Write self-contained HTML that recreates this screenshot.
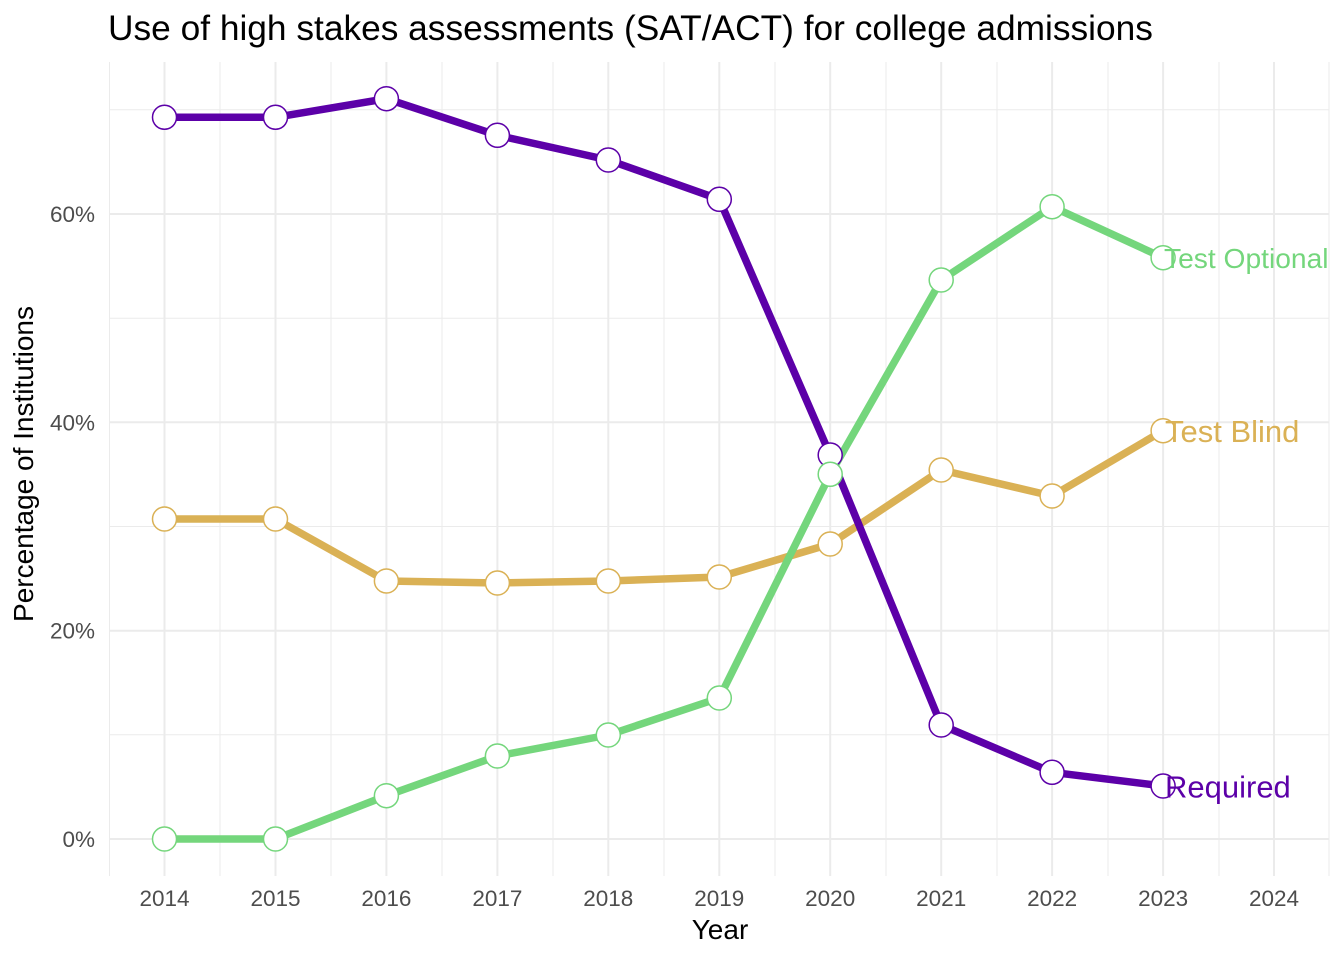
<!DOCTYPE html>
<html>
<head>
<meta charset="utf-8">
<style>
  html, body { margin: 0; padding: 0; background: #ffffff; }
  svg { display: block; }
  text { font-family: "Liberation Sans", Arial, sans-serif; }
</style>
</head>
<body>
<svg width="1344" height="960" viewBox="0 0 1344 960" xmlns="http://www.w3.org/2000/svg">
  <defs>
    <clipPath id="panel"><rect x="110" y="62" width="1219.5" height="814"/></clipPath>
  </defs>
  <rect x="0" y="0" width="1344" height="960" fill="#ffffff"/>

  <!-- Minor grid -->
  <g stroke="#ebebeb" stroke-width="1" fill="none">
    <line x1="110" y1="734.8" x2="1329" y2="734.8"/>
    <line x1="110" y1="526.5" x2="1329" y2="526.5"/>
    <line x1="110" y1="318.2" x2="1329" y2="318.2"/>
    <line x1="110" y1="109.8" x2="1329" y2="109.8"/>
    <line x1="109.5" y1="62" x2="109.5" y2="876"/>
    <line x1="220" y1="62" x2="220" y2="876"/>
    <line x1="331" y1="62" x2="331" y2="876"/>
    <line x1="442" y1="62" x2="442" y2="876"/>
    <line x1="553" y1="62" x2="553" y2="876"/>
    <line x1="664" y1="62" x2="664" y2="876"/>
    <line x1="775" y1="62" x2="775" y2="876"/>
    <line x1="886" y1="62" x2="886" y2="876"/>
    <line x1="997" y1="62" x2="997" y2="876"/>
    <line x1="1108" y1="62" x2="1108" y2="876"/>
    <line x1="1219" y1="62" x2="1219" y2="876"/>
    <line x1="1329" y1="62" x2="1329" y2="876"/>
  </g>
  <!-- Major grid -->
  <g stroke="#ebebeb" stroke-width="2" fill="none">
    <line x1="110" y1="839" x2="1329" y2="839"/>
    <line x1="110" y1="630.7" x2="1329" y2="630.7"/>
    <line x1="110" y1="422.3" x2="1329" y2="422.3"/>
    <line x1="110" y1="214" x2="1329" y2="214"/>
    <line x1="164.5" y1="62" x2="164.5" y2="876"/>
    <line x1="275.5" y1="62" x2="275.5" y2="876"/>
    <line x1="386.4" y1="62" x2="386.4" y2="876"/>
    <line x1="497.4" y1="62" x2="497.4" y2="876"/>
    <line x1="608.3" y1="62" x2="608.3" y2="876"/>
    <line x1="719.3" y1="62" x2="719.3" y2="876"/>
    <line x1="830.2" y1="62" x2="830.2" y2="876"/>
    <line x1="941.2" y1="62" x2="941.2" y2="876"/>
    <line x1="1052.1" y1="62" x2="1052.1" y2="876"/>
    <line x1="1163.1" y1="62" x2="1163.1" y2="876"/>
    <line x1="1274" y1="62" x2="1274" y2="876"/>
  </g>

  <!-- Lines -->
  <g fill="none" stroke-width="7.5" stroke-linejoin="round" stroke-linecap="butt">
    <polyline stroke="#dab155" points="164.5,519 275.5,519 386.4,581 497.4,583 608.3,581 719.3,577 830.2,544 941.2,470 1052.1,496 1163.1,430.7"/>
    <polyline stroke="#74d67c" points="164.5,839 275.5,839 386.4,795.7 497.4,756 608.3,735 719.3,698 830.2,474.3 941.2,280 1052.1,206.7 1163.1,257.7"/>
    <polyline stroke="#5c00a8" points="164.5,117.3 275.5,117.3 386.4,98.7 497.4,135.3 608.3,160 719.3,199.3 830.2,455 941.2,725 1052.1,772.3 1163.1,786"/>
  </g>

  <!-- Points -->
  <g fill="#ffffff" stroke-width="1.5">
    <g stroke="#dab155">
      <circle cx="164.5" cy="519" r="12"/>
      <circle cx="275.5" cy="519" r="12"/>
      <circle cx="386.4" cy="581" r="12"/>
      <circle cx="497.4" cy="583" r="12"/>
      <circle cx="608.3" cy="581" r="12"/>
      <circle cx="719.3" cy="577" r="12"/>
      <circle cx="830.2" cy="544" r="12"/>
      <circle cx="941.2" cy="470" r="12"/>
      <circle cx="1052.1" cy="496" r="12"/>
      <circle cx="1163.1" cy="430.7" r="12"/>
    </g>
    <g stroke="#5c00a8">
      <circle cx="164.5" cy="117.3" r="12"/>
      <circle cx="275.5" cy="117.3" r="12"/>
      <circle cx="386.4" cy="98.7" r="12"/>
      <circle cx="497.4" cy="135.3" r="12"/>
      <circle cx="608.3" cy="160" r="12"/>
      <circle cx="719.3" cy="199.3" r="12"/>
      <circle cx="830.2" cy="455" r="12"/>
      <circle cx="941.2" cy="725" r="12"/>
      <circle cx="1052.1" cy="772.3" r="12"/>
      <circle cx="1163.1" cy="786" r="12"/>
    </g>
    <g stroke="#74d67c">
      <circle cx="164.5" cy="839" r="12"/>
      <circle cx="275.5" cy="839" r="12"/>
      <circle cx="386.4" cy="795.7" r="12"/>
      <circle cx="497.4" cy="756" r="12"/>
      <circle cx="608.3" cy="735" r="12"/>
      <circle cx="719.3" cy="698" r="12"/>
      <circle cx="830.2" cy="474.3" r="12"/>
      <circle cx="941.2" cy="280" r="12"/>
      <circle cx="1052.1" cy="206.7" r="12"/>
      <circle cx="1163.1" cy="257.7" r="12"/>
    </g>
  </g>

  <!-- Series labels -->
  <g clip-path="url(#panel)">
    <text x="1164" y="268" font-size="28.2" fill="#74d67c">Test Optional</text>
    <text x="1165" y="442" font-size="31" fill="#dab155">Test Blind</text>
    <text x="1165" y="797.5" font-size="31" fill="#5c00a8">Required</text>
  </g>

  <!-- Y tick labels -->
  <g font-size="22.5" fill="#4d4d4d" text-anchor="end">
    <text x="95" y="847">0%</text>
    <text x="95" y="638.7">20%</text>
    <text x="95" y="430.3">40%</text>
    <text x="95" y="222">60%</text>
  </g>

  <!-- X tick labels -->
  <g font-size="22.5" fill="#4d4d4d" text-anchor="middle">
    <text x="164.5" y="906">2014</text>
    <text x="275.5" y="906">2015</text>
    <text x="386.4" y="906">2016</text>
    <text x="497.4" y="906">2017</text>
    <text x="608.3" y="906">2018</text>
    <text x="719.3" y="906">2019</text>
    <text x="830.2" y="906">2020</text>
    <text x="941.2" y="906">2021</text>
    <text x="1052.1" y="906">2022</text>
    <text x="1163.1" y="906">2023</text>
    <text x="1274" y="906">2024</text>
  </g>

  <!-- Axis titles -->
  <text x="720" y="939" font-size="28" fill="#000000" text-anchor="middle">Year</text>
  <text transform="translate(33,464) rotate(-90)" x="0" y="0" font-size="28" fill="#000000" text-anchor="middle">Percentage of Institutions</text>

  <!-- Title -->
  <text x="108" y="40" font-size="35.3" fill="#000000">Use of high stakes assessments (SAT/ACT) for college admissions</text>
</svg>
</body>
</html>
